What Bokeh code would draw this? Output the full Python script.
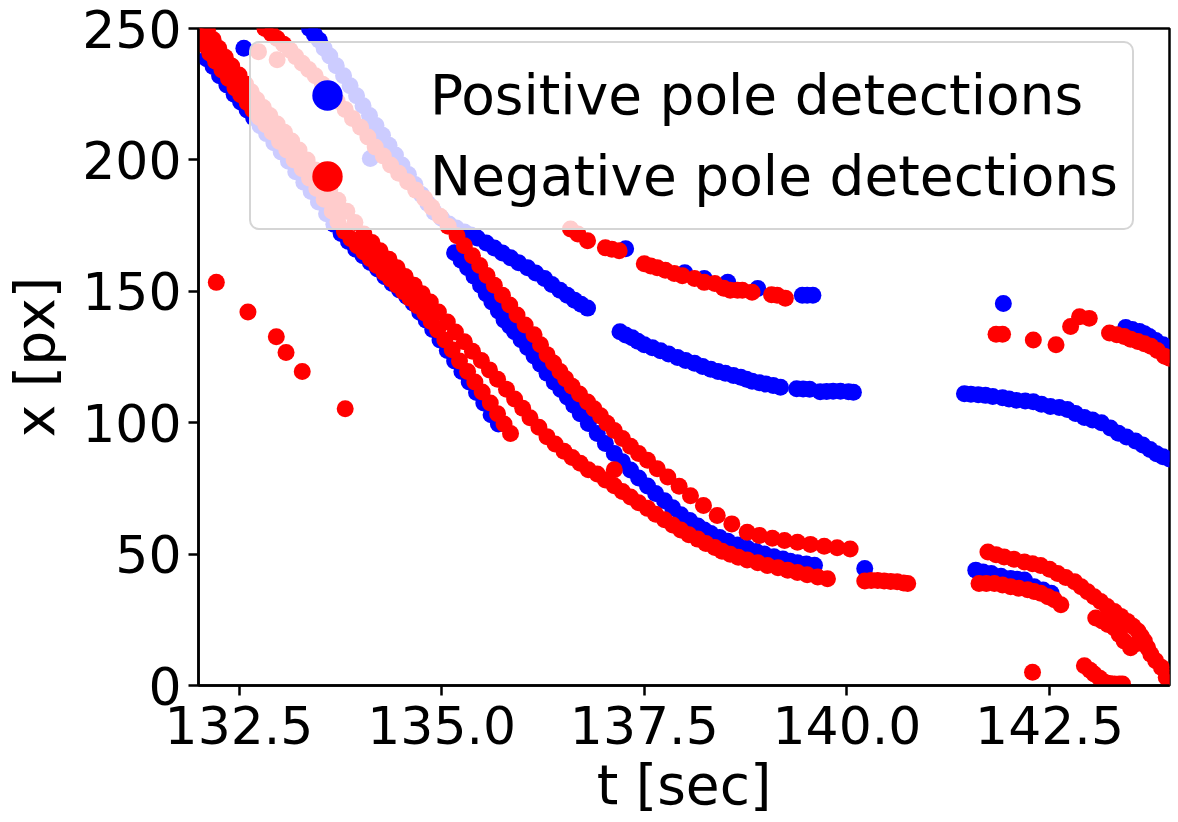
from bokeh.plotting import figure
from bokeh.models import Range1d, FixedTicker, PrintfTickFormatter, Legend, LegendItem
from bokeh.embed import file_html
from bokeh.resources import INLINE

FONT = "DejaVu Sans"

# ---------------- negative pole detections (red) ----------------
neg_a_t = [132.02,132.08,132.14,132.21,132.29,132.37,132.45,132.52,132.60,132.67,132.75,132.83,132.91,133.00,133.09,133.18,133.28,133.37,133.46,133.55,133.65,133.72,133.80,133.88,133.96,134.04,134.12,134.20,134.29,134.37,134.45,134.53,134.61,134.70,134.79,134.87,134.95,135.04,135.13,135.22,135.32,135.41,135.50,135.60,135.69,135.77,135.85]
neg_a_x = [247.0,243.5,240.6,237.5,234.2,231.0,227.4,224.8,221.8,219.0,216.2,213.4,210.5,207.0,203.8,200.0,196.6,193.0,189.1,185.0,180.5,176.5,172.9,170.0,167.3,165.0,162.4,159.8,157.1,154.7,152.3,149.8,147.4,144.5,141.7,138.5,135.3,131.5,127.8,123.5,119.5,115.5,111.7,107.5,103.4,99.5,95.9]

neg_b_t = [132.11,132.18,132.25,132.33,132.41,132.50,132.58,132.65,132.72,132.80,132.88,132.97,133.06,133.15,133.24,133.34,133.44,133.53,133.62,133.72,133.83,133.93,134.04,134.14,134.24,134.35,134.45,134.55,134.66,134.76,134.86,134.96,135.07,135.17,135.28,135.38,135.49,135.59,135.69,135.80,135.90,136.00,136.09,136.20,136.30,136.40,136.51,136.61,136.71,136.81,136.92,137.02,137.13,137.23,137.33,137.43,137.54,137.64,137.75,137.85,137.95,138.05,138.16,138.26,138.37,138.46,138.56,138.66,138.77,138.90,139.02,139.15,139.27,139.39,139.51,139.64,139.76]
neg_b_x = [249.2,245.8,242.5,239.1,235.7,232.3,228.9,225.9,222.9,219.9,216.9,213.7,210.5,207.2,203.8,200.0,196.2,192.5,188.7,184.6,180.5,176.2,171.8,168.6,165.4,162.2,159.0,155.6,152.3,149.1,145.9,142.1,138.3,134.5,130.8,127.2,123.7,120.1,116.5,112.7,109.0,105.5,101.9,98.3,94.7,91.9,89.1,86.8,84.6,82.1,80.5,78.2,76.0,73.8,71.7,69.5,67.4,65.2,63.1,61.1,59.2,57.4,55.7,54.0,52.5,51.1,49.9,48.8,47.8,46.7,45.7,44.8,43.9,43.0,42.1,41.3,40.6]

neg_c_t = [132.82,132.90,132.97,133.05,133.13,133.20,133.28,133.36,133.44,133.53,133.62,133.71,133.81,133.90,134.00,134.09,134.18,134.28,134.37,134.47,134.58,134.68,134.79,134.88,134.98,135.08,135.19,135.28,135.38,135.47,135.56,135.65,135.75,135.84,135.93,136.03,136.14,136.22,136.30,136.38,136.46,136.53,136.61,136.70,136.80,136.88,136.96,137.04,137.13,137.23,137.33,137.43,137.54,137.66,137.79,137.93,138.07,138.23,138.40,138.58,138.77,138.92,139.08,139.23,139.39,139.55,139.72,139.88,140.04]
neg_c_x = [250.0,248.0,246.2,244.0,241.7,239.3,236.8,234.4,232.0,228.8,225.6,222.4,219.2,215.8,212.4,208.7,204.9,201.5,198.1,194.9,191.7,188.5,185.3,182.0,178.6,174.8,171.1,167.3,163.5,159.8,156.0,152.3,148.5,144.8,141.0,137.2,133.5,129.7,125.9,122.7,119.5,116.7,113.9,110.9,107.9,105.3,102.6,99.8,97.0,94.0,91.0,88.3,85.7,82.5,79.3,75.8,72.2,68.5,64.7,61.5,58.3,57.1,56.0,55.2,54.5,53.7,53.0,52.4,51.9]

neg_f_t = [136.59,136.68,136.80,137.02,137.10,137.19,137.50,137.58,137.66,137.76,137.87,137.97,138.12,138.24,138.37,138.48,138.56,138.65,138.71,138.83,139.07,139.14,139.24]
neg_f_x = [173.7,171.8,169.2,166.6,166.0,165.4,160.5,159.6,159.0,158.0,156.8,155.9,154.9,153.4,153.0,151.2,150.4,150.4,150.4,149.6,148.7,148.5,147.4]

neg_l_t = [140.22,140.30,140.38,140.46,140.54,140.62,140.70,140.75]
neg_l_x = [39.8,40.0,40.0,39.8,39.6,39.5,39.0,38.8]

neg_i_t = [143.24,143.33,143.42,143.50,143.59,143.67,143.75,143.83,143.92,143.98]
neg_i_x = [134.1,133.5,132.8,131.8,130.9,130.0,129.1,127.5,125.3,124.5]

neg_j_t = [141.63,141.72,141.82,141.92,142.02,142.12,142.23,142.31,142.39,142.48,142.56,142.64]
neg_j_x = [38.8,38.8,38.8,38.2,37.6,37.0,36.4,35.8,35.1,33.8,32.6,30.7]

neg_k_t = [141.74,141.84,141.94,142.06,142.19,142.29,142.39,142.50,142.60,142.70,142.81,142.89,142.97,143.05,143.13,143.21,143.30,143.38,143.46,143.53,143.59,143.63,143.67,143.71,143.75,143.81,143.88,143.94,143.98]
neg_k_x = [50.8,49.8,48.9,48.0,47.0,46.3,45.7,44.2,42.6,41.1,39.5,37.6,35.7,33.8,32.0,30.1,28.2,26.3,24.4,22.5,20.7,18.8,16.9,14.4,11.9,9.4,6.9,3.1,1.0]

neg_kb_t = [143.07,143.15,143.22,143.30,143.36,143.42,143.50,143.58,143.63]
neg_kb_x = [25.7,24.5,23.2,21.9,19.4,16.9,14.4,16.0,18.2]

neg_bot_t = [142.93,143.00,143.05,143.12,143.18,143.24,143.30,143.36,143.40]
neg_bot_x = [7.5,5.8,4.4,2.8,1.2,0.8,0.6,0.6,0.6]

neg_iso_t = [132.22,132.61,132.96,133.08,133.28,133.81,132.74,132.97,137.13,142.29,141.84,141.92,142.30,142.58,142.76,142.87,142.99]
neg_iso_x = [153.4,142.1,132.7,126.7,119.5,105.3,241.2,238.1,82.1,5.0,133.7,133.7,131.5,129.7,136.6,140.3,139.7]

# ---------------- positive pole detections (blue) ----------------
pos_a_t = [132.10,132.18,132.26,132.35,132.44,132.52,132.60,132.68,132.76,132.84,132.93,133.02,133.11,133.20,133.30,133.39,133.48,133.58,133.67,133.76,133.85,133.94,134.03,134.12,134.21,134.30,134.39,134.48,134.57,134.65,134.73,134.81,134.89,134.98,135.07,135.16,135.25,135.34,135.43,135.52,135.61,135.70]
pos_a_x = [238.5,235.5,232.0,228.5,225.0,222.0,219.0,216.0,213.0,210.0,206.5,203.0,199.5,195.5,191.5,188.0,184.0,179.5,175.5,172.0,169.0,166.0,163.5,161.0,158.5,155.5,153.0,150.5,148.0,145.5,142.0,139.0,135.5,131.5,127.5,123.5,119.5,115.5,111.5,107.5,103.0,99.5]

pos_d_t = [133.37,133.43,133.49,133.55,133.62,133.70,133.79,133.87,133.95,134.03,134.11,134.19,134.27,134.35,134.43,134.51,134.59,134.67,134.75,134.83,134.91,135.00,135.09,135.18,135.28,135.36,135.44,135.55,135.65,135.75,135.85,135.95,136.06,136.16,136.27,136.36,136.46,136.55,136.64,136.72,136.80]
pos_d_x = [250.0,247.7,245.5,242.5,239.5,235.8,232.0,228.2,224.4,220.6,216.9,213.1,209.4,205.6,201.9,198.1,194.4,190.6,186.8,183.4,180.1,177.8,175.6,174.1,172.6,171.4,170.3,168.4,166.5,164.6,162.8,160.9,159.0,157.0,154.9,152.6,150.4,148.5,146.6,145.1,143.6]

pos_e_t = [135.16,135.24,135.32,135.40,135.48,135.55,135.62,135.70,135.77,135.84,135.90,135.98,136.06,136.14,136.22,136.30,136.39,136.47,136.55,136.63,136.71,136.81,136.92,137.02,137.13,137.23,137.33,137.43,137.54,137.64,137.75,137.85,137.95,138.06,138.16,138.24,138.32,138.43,138.53,138.65,138.77,138.88,138.98,139.10,139.21,139.30,139.39,139.50,139.60]
pos_e_x = [164.7,161.8,159.0,155.7,152.3,149.1,145.9,142.5,139.1,136.8,134.6,131.6,128.6,125.4,122.2,118.8,115.4,112.6,109.8,106.6,103.4,99.7,95.9,92.1,88.3,85.1,82.0,79.0,75.9,73.1,70.3,67.6,65.0,62.8,60.7,59.2,57.8,56.3,54.9,53.5,52.2,51.0,50.0,49.0,48.1,47.3,46.7,46.2,45.8]

pos_f_t = [137.27,138.00,138.24,138.53,138.90,139.45,139.51,139.58]
pos_f_x = [166.2,157.1,154.9,153.4,151.1,148.5,148.5,148.5]

pos_g_t = [137.20,137.27,137.35,137.42,137.50,137.60,137.70,137.80,137.91,138.01,138.12,138.22,138.32,138.41,138.50,138.60,138.69,138.76,138.83,138.92,139.00,139.09,139.18,139.38,139.46,139.54,139.67,139.75,139.83,139.92,140.02,140.08]
pos_g_x = [134.6,133.4,132.3,131.0,129.7,128.5,127.4,126.1,124.8,123.7,122.6,121.4,120.3,119.5,118.8,118.0,117.3,116.5,115.8,115.2,114.7,114.2,113.5,112.9,112.8,112.7,111.8,111.9,112.0,112.0,111.8,111.6]

pos_h_t = [141.45,141.53,141.62,141.71,141.80,141.92,142.00,142.09,142.20,142.30,142.40,142.51,142.62,142.72,142.82,142.93,143.03,143.14,143.25,143.35,143.45,143.56,143.65,143.74,143.82,143.90,143.98]
pos_h_x = [111.0,110.8,110.6,110.4,110.0,109.5,109.0,108.5,108.3,108.0,107.0,106.2,105.8,105.0,103.5,102.0,101.0,100.0,98.0,96.0,94.6,93.0,91.5,89.8,88.2,87.0,86.2]

pos_i_t = [143.44,143.52,143.61,143.67,143.73,143.81,143.90]
pos_i_x = [136.2,135.5,134.7,133.8,132.8,131.3,129.7]

pos_j_t = [141.59,141.68,141.78,141.90,142.02,142.10,142.19,142.31,142.42,142.52]
pos_j_x = [43.9,43.2,42.6,41.6,40.7,40.4,40.1,37.6,36.3,35.1]

pos_iso_t = [132.56,134.12,141.93,140.22]
pos_iso_x = [242.5,200.5,145.4,44.5]

x_ticks = [132.5, 135.0, 137.5, 140.0, 142.5]
y_ticks = [0, 50, 100, 150, 200, 250]

pos_t = pos_a_t + pos_d_t + pos_e_t + pos_f_t + pos_g_t + pos_h_t + pos_i_t + pos_j_t + pos_iso_t
pos_x = pos_a_x + pos_d_x + pos_e_x + pos_f_x + pos_g_x + pos_h_x + pos_i_x + pos_j_x + pos_iso_x
neg_t = neg_a_t + neg_b_t + neg_c_t + neg_f_t + neg_l_t + neg_i_t + neg_j_t + neg_k_t + neg_kb_t + neg_bot_t + neg_iso_t
neg_x = neg_a_x + neg_b_x + neg_c_x + neg_f_x + neg_l_x + neg_i_x + neg_j_x + neg_k_x + neg_kb_x + neg_bot_x + neg_iso_x

p = figure(frame_width=971, frame_height=657,
           x_range=Range1d(132.0, 143.98), y_range=Range1d(0, 250),
           output_backend="svg", toolbar_location=None,
           min_border_left=195, min_border_top=28, min_border_right=4, min_border_bottom=0,
           background_fill_color="white", border_fill_color="white")

blue = p.scatter(pos_t, pos_x, size=17, fill_color="#0000ff", line_color=None)
red = p.scatter(neg_t, neg_x, size=17, fill_color="#ff0000", line_color=None)

p.grid.visible = False
p.outline_line_color = "black"
p.outline_line_width = 2.5
p.outline_line_alpha = 1.0

p.xaxis.ticker = FixedTicker(ticks=x_ticks)
p.xaxis.formatter = PrintfTickFormatter(format="%.1f")
p.yaxis.ticker = FixedTicker(ticks=y_ticks)
p.xaxis.axis_label = "t [sec]"
p.yaxis.axis_label = "x [px]"
for ax in (p.xaxis, p.yaxis):
    ax.axis_line_width = 2.5
    ax.axis_line_color = "black"
    ax.major_tick_line_width = 2.5
    ax.major_tick_line_color = "black"
    ax.major_tick_out = 10
    ax.major_tick_in = 0
    ax.minor_tick_out = 0
    ax.minor_tick_in = 0
    ax.major_label_text_font = FONT
    ax.major_label_text_font_size = "52px"
    ax.major_label_text_color = "black"
    ax.axis_label_text_font = FONT
    ax.axis_label_text_font_size = "55px"
    ax.axis_label_text_font_style = "normal"
    ax.axis_label_text_color = "black"
p.xaxis.major_label_standoff = 10
p.xaxis.axis_label_standoff = 6
p.yaxis.major_label_standoff = 7
p.yaxis.axis_label_standoff = 12

legend = Legend(items=[LegendItem(label="Positive pole detections", renderers=[blue]),
                       LegendItem(label="Negative pole detections", renderers=[red])],
                location=(51, 455))
legend.label_text_font = FONT
legend.label_text_font_size = "55px"
legend.label_text_color = "black"
legend.glyph_width = 124
legend.glyph_height = 76
legend.label_standoff = 41
legend.padding = 14
legend.spacing = 5
legend.margin = 0
legend.background_fill_color = "white"
legend.background_fill_alpha = 0.8
legend.border_line_color = "#d5d5d5"
legend.border_line_width = 2.5
legend.border_line_alpha = 1.0
try:
    legend.border_radius = 10
except Exception:
    pass
p.add_layout(legend)

open("out.html", "w").write(file_html(p, INLINE))
